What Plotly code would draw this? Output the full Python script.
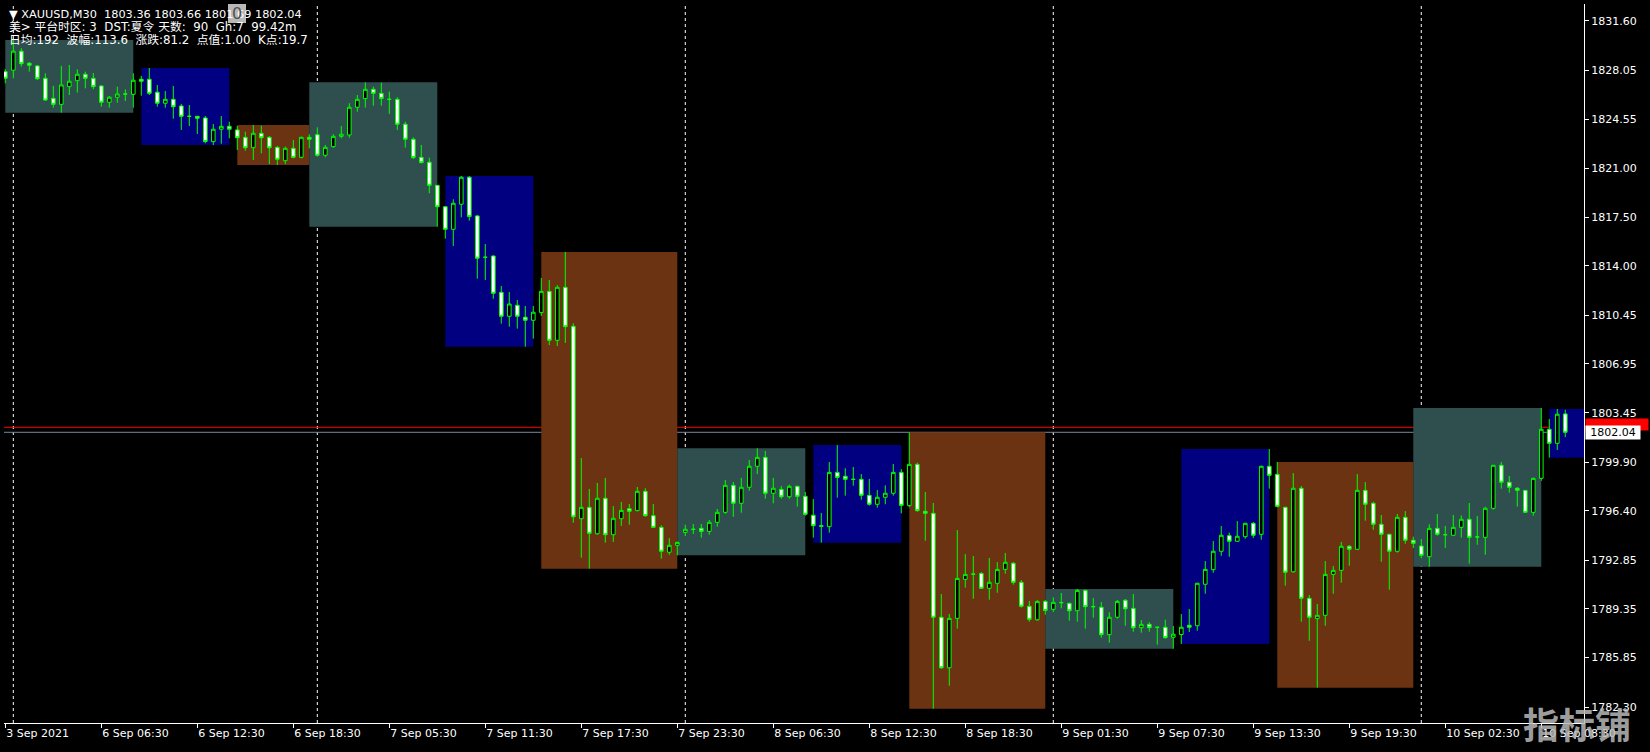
import plotly.graph_objects as go

# ---------------- data (XAUUSD M30) ----------------
bar_open = [
    1827.96, 1828.06, 1829.43, 1828.56, 1828.37, 1827.48, 1826.04, 1825.61, 1826.88, 1827.31,
    1827.77, 1827.48, 1826.93, 1825.76, 1826.12, 1826.35, 1826.33, 1827.41, 1827.41, 1826.48,
    1825.69, 1825.97, 1825.49, 1824.75, 1824.75, 1824.63, 1822.93, 1823.82, 1824.03, 1823.77,
    1823.24, 1822.49, 1823.53, 1823.24, 1822.52, 1821.56, 1822.45, 1821.80, 1823.24, 1823.43,
    1821.95, 1822.57, 1823.31, 1823.41, 1825.40, 1826.02, 1826.69, 1826.40, 1825.97, 1825.97,
    1824.18, 1823.10, 1821.80, 1821.45, 1819.79, 1818.25, 1816.63, 1818.43, 1820.37, 1817.59,
    1814.62, 1814.71, 1812.10, 1810.38, 1811.17, 1810.31, 1810.09, 1810.64, 1812.17, 1808.65,
    1812.46, 1809.66, 1795.83, 1796.65, 1794.75, 1797.30, 1794.68, 1795.83, 1796.55, 1796.41,
    1797.80, 1796.05, 1795.21, 1793.42, 1793.92, 1794.85, 1795.07, 1795.14, 1794.92, 1795.57,
    1796.29, 1798.23, 1796.94, 1798.09, 1799.60, 1800.24, 1797.66, 1797.94, 1797.41, 1798.16,
    1797.44, 1796.08, 1795.33, 1795.26, 1799.16, 1798.88, 1798.66, 1798.66, 1797.51, 1796.87,
    1797.37, 1797.66, 1799.16, 1796.77, 1799.74, 1796.36, 1796.22, 1788.75, 1785.12, 1788.67,
    1791.47, 1791.85, 1791.90, 1790.83, 1791.19, 1792.19, 1792.63, 1791.26, 1789.54, 1788.57,
    1789.89, 1789.32, 1789.80, 1789.75, 1789.22, 1790.68, 1789.51, 1789.47, 1787.50, 1788.75,
    1789.97, 1789.39, 1788.00, 1788.24, 1788.03, 1788.03, 1787.31, 1787.51, 1788.17, 1788.14,
    1791.12, 1792.17, 1793.49, 1794.61, 1794.21, 1794.54, 1795.50, 1794.71, 1799.60, 1799.02,
    1796.65, 1792.02, 1798.02, 1790.11, 1788.65, 1788.89, 1791.83, 1792.12, 1793.85, 1793.63,
    1797.87, 1796.94, 1795.43, 1794.71, 1793.49, 1795.93, 1794.28, 1793.87, 1793.10, 1795.14,
    1794.68, 1794.64, 1795.21, 1795.79, 1794.52, 1794.49, 1796.58, 1799.67, 1798.45, 1798.02,
    1797.87, 1796.29, 1798.73, 1802.26, 1801.25, 1803.36,
]
bar_high = [
    1828.13, 1830.24, 1829.64, 1828.65, 1828.44, 1827.84, 1826.93, 1828.37, 1828.44, 1828.13,
    1827.96, 1827.86, 1827.00, 1826.21, 1826.88, 1826.69, 1827.84, 1827.65, 1828.22, 1827.00,
    1826.57, 1826.93, 1825.64, 1825.56, 1824.77, 1824.77, 1824.20, 1824.77, 1824.36, 1824.05,
    1823.64, 1824.13, 1824.08, 1823.34, 1822.62, 1822.57, 1823.05, 1823.29, 1823.46, 1823.96,
    1822.69, 1823.46, 1824.05, 1825.69, 1826.28, 1827.19, 1826.88, 1827.17, 1826.52, 1826.12,
    1824.36, 1823.24, 1822.69, 1821.78, 1819.81, 1818.30, 1818.79, 1820.46, 1820.46, 1817.66,
    1815.57, 1814.76, 1812.56, 1812.12, 1811.55, 1811.12, 1811.12, 1813.13, 1812.99, 1812.61,
    1815.00, 1809.87, 1800.19, 1797.97, 1798.40, 1798.76, 1796.74, 1797.03, 1796.89, 1798.11,
    1798.02, 1796.89, 1795.36, 1794.44, 1794.18, 1795.40, 1795.45, 1795.45, 1795.74, 1796.53,
    1798.61, 1798.47, 1798.76, 1800.05, 1800.89, 1800.70, 1798.76, 1798.18, 1798.28, 1798.20,
    1797.75, 1797.25, 1796.24, 1799.91, 1801.13, 1799.45, 1799.55, 1799.04, 1798.69, 1797.89,
    1798.23, 1799.76, 1799.40, 1802.04, 1799.86, 1797.75, 1796.96, 1790.42, 1788.98, 1795.02,
    1793.29, 1793.15, 1792.00, 1793.01, 1792.72, 1793.37, 1792.72, 1791.42, 1789.92, 1789.97,
    1789.99, 1790.18, 1790.49, 1789.80, 1790.78, 1790.73, 1790.13, 1789.84, 1789.11, 1789.99,
    1790.06, 1790.42, 1788.55, 1788.39, 1788.05, 1788.57, 1788.12, 1788.98, 1789.34, 1791.23,
    1792.79, 1794.23, 1795.31, 1794.83, 1795.66, 1795.54, 1795.59, 1799.64, 1800.84, 1799.91,
    1796.69, 1799.11, 1798.18, 1790.35, 1789.70, 1792.79, 1792.43, 1794.16, 1793.94, 1799.04,
    1798.47, 1797.05, 1796.10, 1794.75, 1796.17, 1796.38, 1794.54, 1794.37, 1795.43, 1796.17,
    1795.31, 1796.10, 1796.07, 1796.96, 1796.03, 1796.69, 1799.69, 1799.91, 1798.90, 1798.11,
    1797.89, 1798.78, 1803.79, 1802.99, 1803.72, 1803.66,
]
bar_low = [
    1827.12, 1827.48, 1828.32, 1827.96, 1827.36, 1825.85, 1825.37, 1825.01, 1826.28, 1826.45,
    1826.76, 1826.69, 1825.44, 1825.37, 1825.73, 1825.85, 1825.37, 1826.23, 1826.28, 1825.44,
    1825.37, 1824.58, 1823.77, 1824.05, 1823.48, 1822.81, 1822.69, 1822.78, 1823.17, 1822.33,
    1822.28, 1821.61, 1822.09, 1821.32, 1821.25, 1821.32, 1821.73, 1821.73, 1822.45, 1821.85,
    1821.80, 1822.49, 1823.17, 1823.21, 1825.08, 1825.37, 1825.51, 1825.51, 1824.92, 1823.77,
    1822.49, 1821.68, 1821.37, 1819.22, 1816.82, 1815.96, 1815.43, 1817.49, 1817.25, 1813.08,
    1812.99, 1811.64, 1809.85, 1809.63, 1809.49, 1808.19, 1808.77, 1810.40, 1808.31, 1808.24,
    1808.46, 1795.54, 1793.03, 1792.24, 1794.68, 1794.11, 1794.16, 1795.31, 1795.40, 1796.36,
    1795.97, 1795.16, 1792.96, 1793.24, 1793.20, 1794.59, 1794.73, 1794.47, 1794.68, 1795.26,
    1796.17, 1795.97, 1796.26, 1797.84, 1799.04, 1797.27, 1796.94, 1797.27, 1797.27, 1796.70,
    1796.05, 1794.47, 1794.11, 1794.83, 1797.34, 1797.49, 1798.20, 1797.20, 1796.77, 1796.62,
    1796.87, 1797.49, 1796.22, 1796.65, 1796.33, 1794.25, 1782.18, 1785.05, 1783.83, 1787.93,
    1790.87, 1790.08, 1790.78, 1790.01, 1790.51, 1791.88, 1791.09, 1789.44, 1788.43, 1788.50,
    1788.93, 1789.13, 1789.39, 1788.50, 1788.43, 1787.93, 1788.72, 1787.28, 1786.92, 1788.65,
    1788.14, 1787.71, 1787.64, 1787.71, 1786.78, 1787.21, 1786.49, 1786.83, 1787.69, 1787.78,
    1790.44, 1791.95, 1793.17, 1793.10, 1794.18, 1794.39, 1794.44, 1794.32, 1797.99, 1796.65,
    1791.02, 1791.95, 1788.43, 1787.06, 1783.69, 1788.14, 1790.44, 1791.23, 1792.45, 1793.58,
    1795.69, 1795.04, 1792.74, 1790.73, 1793.39, 1794.03, 1793.73, 1792.99, 1792.38, 1794.61,
    1793.73, 1794.62, 1794.47, 1792.60, 1793.96, 1793.24, 1796.48, 1797.99, 1797.70, 1796.70,
    1796.26, 1796.05, 1798.56, 1800.22, 1800.77, 1801.69,
]
bar_close = [
    1827.48, 1829.43, 1828.53, 1828.42, 1827.45, 1825.92, 1825.61, 1827.00, 1827.27, 1827.77,
    1827.48, 1826.88, 1825.76, 1826.12, 1826.35, 1826.35, 1827.34, 1827.27, 1826.40, 1825.69,
    1825.97, 1825.44, 1824.75, 1824.75, 1824.61, 1822.93, 1823.82, 1824.03, 1823.82, 1823.21,
    1822.49, 1823.53, 1823.21, 1822.49, 1821.66, 1822.45, 1821.80, 1823.24, 1823.10, 1821.95,
    1822.52, 1823.31, 1823.46, 1825.40, 1825.97, 1826.69, 1826.40, 1826.02, 1825.97, 1824.18,
    1823.10, 1821.78, 1821.42, 1819.79, 1818.25, 1816.63, 1818.50, 1820.37, 1817.54, 1814.55,
    1814.62, 1812.03, 1810.38, 1811.26, 1810.38, 1810.09, 1810.67, 1812.17, 1808.65, 1812.46,
    1809.63, 1795.97, 1796.65, 1794.78, 1797.30, 1794.68, 1795.86, 1796.43, 1796.36, 1797.80,
    1796.05, 1795.21, 1793.49, 1793.92, 1794.13, 1795.07, 1795.07, 1794.92, 1795.57, 1796.29,
    1798.23, 1796.94, 1798.09, 1799.60, 1800.24, 1797.66, 1798.02, 1797.41, 1798.16, 1797.44,
    1796.15, 1795.33, 1795.29, 1799.16, 1798.80, 1798.66, 1798.66, 1797.51, 1796.87, 1797.37,
    1797.66, 1799.16, 1796.79, 1799.74, 1796.41, 1796.22, 1788.75, 1785.12, 1788.67, 1791.54,
    1791.83, 1791.85, 1790.83, 1791.26, 1792.19, 1792.70, 1791.26, 1789.54, 1788.60, 1789.89,
    1789.23, 1789.82, 1789.80, 1789.22, 1790.68, 1789.51, 1789.51, 1787.50, 1788.75, 1789.89,
    1789.36, 1788.00, 1788.24, 1788.00, 1788.03, 1787.28, 1787.53, 1788.03, 1788.03, 1791.19,
    1792.19, 1793.49, 1794.64, 1794.21, 1794.57, 1795.50, 1794.64, 1799.60, 1798.95, 1796.72,
    1791.98, 1798.02, 1790.11, 1788.75, 1788.89, 1791.83, 1792.12, 1793.85, 1793.63, 1797.87,
    1796.87, 1795.43, 1794.71, 1793.49, 1795.93, 1794.28, 1794.06, 1793.20, 1795.14, 1794.71,
    1794.68, 1795.21, 1795.79, 1794.49, 1794.52, 1796.58, 1799.67, 1798.45, 1798.09, 1797.87,
    1796.29, 1798.73, 1802.26, 1801.25, 1803.34, 1802.04,
]

# session boxes (bar index range) and their colours
box_start = [0, 17, 29, 38, 55, 67, 84, 101, 113, 130, 147, 159, 176, 193]
box_end = [16, 28, 38, 54, 66, 84, 100, 112, 130, 146, 158, 176, 192, 204]
session_colours = ["#2F4F4F", "#000080", "#6B3312"]

# first bar of each trading day (period separators)
day_start = [1, 39, 85, 131, 177]

# x-axis labels (every 12 bars)
time_tick_idx = [0, 12, 24, 36, 48, 60, 72, 84, 96, 108, 120, 132, 144, 156, 168, 180, 192]
time_tick_text = ["3 Sep 2021", "6 Sep 06:30", "6 Sep 12:30", "6 Sep 18:30", "7 Sep 05:30",
                  "7 Sep 11:30", "7 Sep 17:30", "7 Sep 23:30", "8 Sep 06:30", "8 Sep 12:30",
                  "8 Sep 18:30", "9 Sep 01:30", "9 Sep 07:30", "9 Sep 13:30", "9 Sep 19:30",
                  "10 Sep 02:30", "10 Sep 08:30"]

# y-axis labels
price_ticks = [1831.60, 1828.05, 1824.55, 1821.00, 1817.50, 1814.00, 1810.45, 1806.95,
               1803.45, 1799.90, 1796.40, 1792.85, 1789.35, 1785.85, 1782.30]
price_tick_text = ["1831.60", "1828.05", "1824.55", "1821.00", "1817.50", "1814.00", "1810.45",
                   "1806.95", "1803.45", "1799.90", "1796.40", "1792.85", "1789.35", "1785.85", "1782.30"]

ask_price = 1802.40
bid_price = bar_close[-1]

header_line2 = "美> 平台时区: 3\u00a0 DST:夏令 天数:\u00a0 90\u00a0 Gh:7\u00a0 99.42m"
header_line3 = "日均:192\u00a0 波幅:113.6\u00a0 涨跌:81.2\u00a0 点值:1.00\u00a0 K点:19.7"

# ---------------- layout geometry ----------------
W, H = 1650, 752
ML, MR, MT, MB = 4, 66, 4, 29
PW, PH = W - ML - MR, H - MT - MB


def px(xp):
    return (xp - ML) / PW


def py(yp):
    return 1 - (yp - MT) / PH


FONT = "DejaVu Sans, Noto Sans CJK SC, sans-serif"
n = len(bar_open)
bar_idx = list(range(n))

fig = go.Figure()
fig.add_trace(go.Candlestick(
    x=bar_idx, open=bar_open, high=bar_high, low=bar_low, close=bar_close,
    increasing=dict(line=dict(color="#00FF00", width=1), fillcolor="#000000"),
    decreasing=dict(line=dict(color="#00FF00", width=1), fillcolor="#FFFFFF"),
    whiskerwidth=0, showlegend=False, hoverinfo="skip",
))

shapes = []
for k, (s, e) in enumerate(zip(box_start, box_end)):
    last = min(e, n - 1)
    hi = max(bar_high[s:last + 1])
    lo = min(bar_low[s:last + 1])
    shapes.append(dict(type="rect", xref="x", yref="y", x0=s, x1=e, y0=lo, y1=hi,
                       fillcolor=session_colours[k % 3], line=dict(width=0), layer="below"))
for d in day_start:
    shapes.append(dict(type="line", xref="x", yref="paper", x0=d, x1=d, y0=0, y1=1,
                       line=dict(color="#FFFFFF", width=1, dash="3px,3px"), layer="below"))
shapes.append(dict(type="line", xref="paper", yref="y", x0=0, x1=1, y0=ask_price, y1=ask_price,
                   line=dict(color="#FF0000", width=1), layer="below"))
shapes.append(dict(type="line", xref="paper", yref="y", x0=0, x1=1, y0=bid_price, y1=bid_price,
                   line=dict(color="#778899", width=1), layer="below"))
# header "0" button
shapes.append(dict(type="rect", xref="paper", yref="paper", x0=px(228), x1=px(246),
                   y0=py(23), y1=py(4), fillcolor="#B8B8B8", line=dict(width=0), layer="above"))

o, h, l, c = bar_open[-1], bar_high[-1], bar_low[-1], bar_close[-1]
header_line1 = f"▼ XAUUSD,M30\u00a0 {o:.2f} {h:.2f} {l:.2f} {c:.2f}"

annotations = [
    dict(text=header_line1, x=px(7), y=py(14), xref="paper", yref="paper", xanchor="left",
         yanchor="middle", showarrow=False, font=dict(family=FONT, size=11.3, color="#FFFFFF")),
    dict(text="0", x=px(237), y=py(13), xref="paper", yref="paper", xanchor="center",
         yanchor="middle", showarrow=False, font=dict(family=FONT, size=16, color="#505050")),
    dict(text=header_line2, x=px(7), y=py(27), xref="paper", yref="paper", xanchor="left",
         yanchor="middle", showarrow=False, font=dict(family=FONT, size=11.8, color="#FFFFFF")),
    dict(text=header_line3, x=px(7), y=py(40), xref="paper", yref="paper", xanchor="left",
         yanchor="middle", showarrow=False, font=dict(family=FONT, size=11.8, color="#FFFFFF")),
    dict(text=f"{ask_price:.2f}", x=1, y=ask_price, xref="paper", yref="y", xanchor="left",
         yanchor="middle", xshift=1, yshift=3, showarrow=False, bgcolor="#FF0000", width=62,
         borderpad=0, font=dict(family=FONT, size=10, color="#FF0000")),
    dict(text=f"{bid_price:.2f}", x=1, y=bid_price, xref="paper", yref="y", xanchor="left",
         yanchor="middle", xshift=1, showarrow=False, bgcolor="#FFFFFF", borderpad=0,
         width=54, font=dict(family=FONT, size=11, color="#000000")),
    dict(text="<b>指标铺</b>", x=px(1577), y=py(723), xref="paper", yref="paper",
         xanchor="center", yanchor="middle", showarrow=False,
         font=dict(family="Noto Sans CJK SC", size=36, color="rgba(185,185,185,0.85)")),
]

fig.update_layout(
    width=W, height=H,
    margin=dict(l=ML, r=MR, t=MT, b=MB, pad=0, autoexpand=False),
    paper_bgcolor="#000000", plot_bgcolor="#000000",
    showlegend=False, boxgap=0.35,
    shapes=shapes, annotations=annotations,
    xaxis=dict(range=[-0.1625, 197.34], tickmode="array", tickvals=time_tick_idx,
               ticktext=time_tick_text, ticks="outside", ticklen=4, tickcolor="#FFFFFF",
               ticklabelposition="outside right", automargin=False,
               showline=True, linecolor="#FFFFFF", linewidth=1, showgrid=False,
               zeroline=False, rangeslider=dict(visible=False),
               tickfont=dict(family=FONT, size=11, color="#FFFFFF")),
    yaxis=dict(range=[1781.15, 1832.82], side="right", tickmode="array",
               tickvals=price_ticks, ticktext=price_tick_text, ticks="outside", ticklen=4,
               tickcolor="#FFFFFF", showline=True, linecolor="#FFFFFF", linewidth=1,
               showgrid=False, zeroline=False, automargin=False,
               tickfont=dict(family=FONT, size=11, color="#FFFFFF")),
)

fig.write_html(
    "out.html",
    config={"displayModeBar": False},
    post_script="document.body.style.margin='0';document.body.style.background='#000';"
                "document.body.style.overflow='hidden';",
)
